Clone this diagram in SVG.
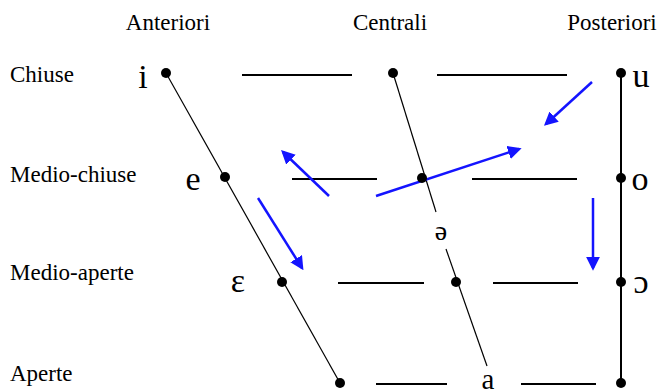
<svg xmlns="http://www.w3.org/2000/svg" width="663" height="392" viewBox="0 0 663 392">
<defs>
<style>
.hdr{font-family:"Liberation Serif",serif;font-size:23px;fill:#000}
.v{font-family:"Liberation Serif","DejaVu Serif",serif;font-size:34px;fill:#000;text-anchor:middle}
.ln{stroke:#000;stroke-width:1.2;fill:none}
.bk{stroke:#000;stroke-width:2;fill:none}
.ar{stroke:#1414ff;stroke-width:2.5;fill:none;marker-end:url(#ah)}
.dot{fill:#000}
</style>
<marker id="ah" viewBox="0 0 10 10" refX="8" refY="5" markerWidth="5.5" markerHeight="5.5" orient="auto" markerUnits="strokeWidth">
<path d="M0,0 L10,5 L0,10 z" fill="#1414ff"/>
</marker>
</defs>
<rect width="663" height="392" fill="#fff"/>
<g id="headers">
<text class="hdr" x="168" y="30" text-anchor="middle">Anteriori</text>
<text class="hdr" x="390" y="30" text-anchor="middle">Centrali</text>
<text class="hdr" x="612" y="30" text-anchor="middle">Posteriori</text>
<text class="hdr" x="10" y="82">Chiuse</text>
<text class="hdr" x="10" y="182">Medio-chiuse</text>
<text class="hdr" x="10" y="280">Medio-aperte</text>
<text class="hdr" x="10" y="381">Aperte</text>
</g>
<g id="connectors">
<line class="ln" x1="166" y1="73" x2="340" y2="383"/>
<line class="ln" x1="393" y1="73" x2="436" y2="212"/>
<line class="ln" x1="446" y1="249" x2="487" y2="366"/>
<line class="bk" x1="621" y1="73" x2="621" y2="386"/>
<line class="bk" x1="242" y1="75" x2="352" y2="75"/>
<line class="bk" x1="437" y1="75" x2="567" y2="75"/>
<line class="bk" x1="292" y1="179" x2="377" y2="179"/>
<line class="bk" x1="472" y1="179" x2="577" y2="179"/>
<line class="bk" x1="338" y1="283" x2="424" y2="283"/>
<line class="bk" x1="493" y1="283" x2="578" y2="283"/>
<line class="bk" x1="376" y1="384" x2="447" y2="384"/>
<line class="bk" x1="521" y1="384" x2="596" y2="384"/>
</g>
<g id="arrows">
<line class="ar" x1="592" y1="82" x2="546" y2="124"/>
<line class="ar" x1="329" y1="196" x2="283" y2="152"/>
<line class="ar" x1="376" y1="196" x2="519" y2="149"/>
<line class="ar" x1="258" y1="198" x2="302" y2="268"/>
<line class="ar" x1="593" y1="198" x2="593" y2="268"/>
</g>
<g id="n-i"><circle class="dot" cx="166" cy="73" r="5"/><text class="v" x="143" y="88">i</text></g>
<g id="n-c1"><circle class="dot" cx="393" cy="73" r="5"/></g>
<g id="n-u"><circle class="dot" cx="621" cy="73" r="5"/><text class="v" x="641" y="87">u</text></g>
<g id="n-e"><circle class="dot" cx="225" cy="177" r="5"/><text class="v" x="193" y="190">e</text></g>
<g id="n-c2"><circle class="dot" cx="422" cy="178" r="5"/></g>
<g id="n-o"><circle class="dot" cx="621" cy="178" r="5"/><text class="v" x="640" y="190">o</text></g>
<g id="n-schwa"><text class="v" x="441" y="240" style="font-size:28px">ə</text></g>
<g id="n-eps"><circle class="dot" cx="282" cy="282" r="5"/><text class="v" x="238" y="292">ɛ</text></g>
<g id="n-c3"><circle class="dot" cx="456" cy="282" r="5"/></g>
<g id="n-oo"><circle class="dot" cx="621" cy="282" r="5"/><text class="v" x="641" y="293">ɔ</text></g>
<g id="n-open-front"><circle class="dot" cx="340" cy="383" r="5"/></g>
<g id="n-a"><text class="v" x="488" y="389" style="font-size:29px">a</text></g>
<g id="n-open-back"><circle class="dot" cx="621" cy="383" r="5"/></g>
</svg>
